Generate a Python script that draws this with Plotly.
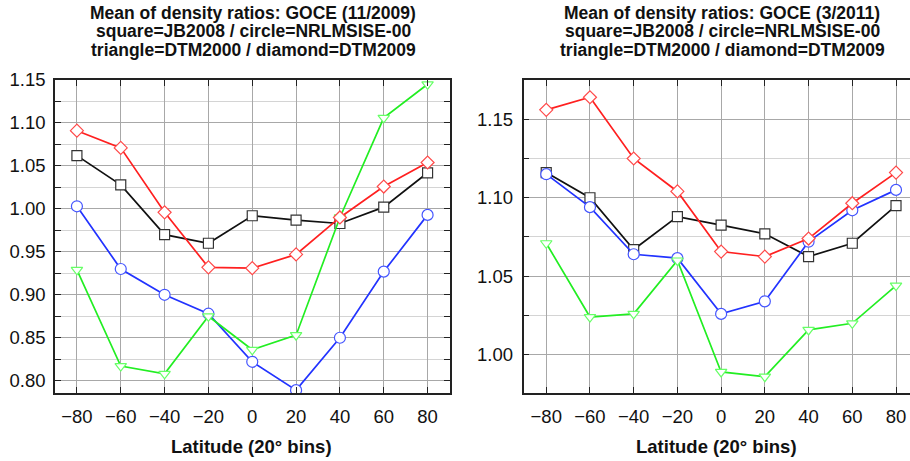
import plotly.graph_objects as go

lat = [-80, -60, -40, -20, 0, 20, 40, 60, 80]

# Left panel: GOCE (11/2009)
jb2008_a = [1.062, 1.028, 0.970, 0.960, 0.992, 0.987, 0.983, 1.002, 1.042]
nrl_a = [1.003, 0.930, 0.900, 0.878, 0.822, 0.789, 0.850, 0.927, 0.993]
dtm2000_a = [0.929, 0.817, 0.808, 0.875, 0.836, 0.853, 0.990, 1.106, 1.145]
dtm2009_a = [1.091, 1.071, 0.996, 0.932, 0.931, 0.947, 0.990, 1.026, 1.054]

# Right panel: GOCE (3/2011)
jb2008_b = [1.116, 1.100, 1.067, 1.088, 1.0825, 1.077, 1.0625, 1.071, 1.095]
nrl_b = [1.115, 1.094, 1.064, 1.0615, 1.026, 1.034, 1.072, 1.092, 1.105]
dtm2000_b = [1.071, 1.024, 1.026, 1.060, 0.989, 0.986, 1.0158, 1.020, 1.044]
dtm2009_b = [1.156, 1.164, 1.125, 1.104, 1.0657, 1.0625, 1.074, 1.0965, 1.116]

titles_a = ["Mean of density ratios: GOCE (11/2009)",
            "square=JB2008 / circle=NRLMSISE-00",
            "triangle=DTM2000 / diamond=DTM2009"]
titles_b = ["Mean of density ratios: GOCE (3/2011)",
            "square=JB2008 / circle=NRLMSISE-00",
            "triangle=DTM2000 / diamond=DTM2009"]
xlabel = "Latitude (20° bins)"

W, H = 910, 461
top, bottom = 80, 393
FONT = "Liberation Sans, Arial, sans-serif"

styles = [
    ("JB2008", "#111111", "#333333", "square", 10),
    ("NRLMSISE-00", "#2233ff", "#4455ff", "circle", 11),
    ("DTM2000", "#22ee22", "#66ff66", "triangle-down", 10),
    ("DTM2009", "#ff2020", "#ff4a4a", "diamond", 10),
]

fig = go.Figure()
for (xa, ya), series in ((("x", "y"), [jb2008_a, nrl_a, dtm2000_a, dtm2009_a]),
                         (("x2", "y2"), [jb2008_b, nrl_b, dtm2000_b, dtm2009_b])):
    for (name, lc, mc, sym, sz), vals in zip(styles, series):
        fig.add_trace(go.Scatter(
            x=lat, y=vals, mode="lines+markers", name=name, xaxis=xa, yaxis=ya,
            line=dict(color=lc, width=1.7),
            marker=dict(symbol=sym, size=sz, color="white",
                        line=dict(color=mc, width=1.2)),
            showlegend=False))

axis_common = dict(showline=True, linecolor="#222222", linewidth=1.5,
                   ticks="inside", ticklen=6, tickwidth=1.2, tickcolor="#222222",
                   showgrid=True, gridcolor="#a8a8a8", gridwidth=1,
                   zeroline=False,
                   tickfont=dict(family=FONT, size=18.5, color="#111111"))

xa_common = dict(axis_common, tickmode="array", tickvals=lat,
                 ticktext=[("\u2212%d" % -v) if v < 0 else str(v) for v in lat],
                 ticklabelstandoff=6)

ya_minor = dict(dtick=0.025, showgrid=True, gridcolor="#d4d4d4", gridwidth=1,
                ticks="inside", ticklen=6, tickcolor="#222222", tickwidth=1.2)

fig.update_layout(
    width=W, height=H,
    margin=dict(l=0, r=0, t=top, b=H - bottom),
    plot_bgcolor="white", paper_bgcolor="white",
    xaxis=dict(xa_common, domain=[55 / W, 449.5 / W], range=[-90, 90],
               mirror="ticks", anchor="y"),
    yaxis=dict(axis_common, domain=[0, 1], range=[0.7857, 1.15], dtick=0.05,
               tickformat=".2f", mirror="ticks", anchor="x",
               minor=ya_minor, ticklabelstandoff=4),
    xaxis2=dict(xa_common, domain=[523.5 / W, 1.0], range=[-90.4, 86.4],
                mirror=True, anchor="y2"),
    yaxis2=dict(axis_common, domain=[0, 1], range=[0.9756, 1.175], dtick=0.05,
                tickformat=".2f", mirror=False, anchor="x2",
                minor=ya_minor, ticklabelstandoff=5),
    xaxis3=dict(overlaying="x2", side="top", range=[-90.4, 86.4], tickmode="array",
                tickvals=lat, ticks="inside", ticklen=6, tickwidth=1.2,
                tickcolor="#222222", showticklabels=False, showgrid=False,
                showline=False, zeroline=False, anchor="y2"),
)
fig.add_trace(go.Scatter(x=[None], y=[None], xaxis="x3", yaxis="y2", showlegend=False))


def ppx(px):
    return px / W


def ppy(py):
    return (bottom - py) / (bottom - top)


annotations = []
for cx, lines in ((253, titles_a), (722, titles_b)):
    for i, line in enumerate(lines):
        annotations.append(dict(
            text="<b>%s</b>" % line, xref="paper", yref="paper",
            x=ppx(cx), y=ppy(13 + i * 18.4), xanchor="center", yanchor="middle",
            showarrow=False, font=dict(family=FONT, size=17.5, color="#111111")))
for cx in (251, 716):
    annotations.append(dict(
        text="<b>%s</b>" % xlabel, xref="paper", yref="paper",
        x=ppx(cx), y=ppy(446), xanchor="center", yanchor="middle",
        showarrow=False, font=dict(family=FONT, size=18.5, color="#111111")))
fig.update_layout(annotations=annotations)

fig.write_html("out.html")
